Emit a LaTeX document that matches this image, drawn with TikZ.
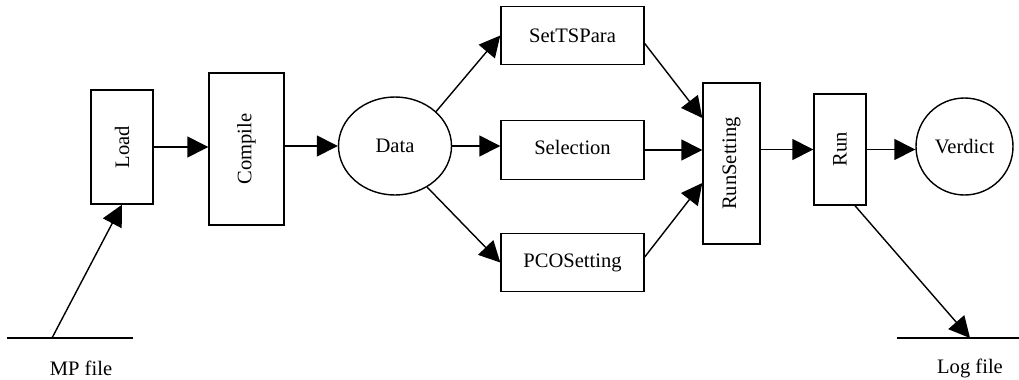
\documentclass[tikz,border=0pt]{standalone}
\usepackage{fontspec}
\usepackage{graphicx}
\setmainfont{Liberation Serif}
\usetikzlibrary{arrows.meta}
\usetikzlibrary{positioning}
\usetikzlibrary{shapes.geometric}
\tikzset{flow/.style = {-{Triangle[length=0.42cm, width=0.42cm]}}}
\tikzset{blk/.style = {draw, rectangle, inner sep = 0}}

\begin{document}
\begin{tikzpicture}[line width=0.8pt, font=\fontsize{11.7}{14}\selectfont]
      \useasboundingbox (0, 0) rectangle (20.38, 7.58);

      \node [blk, minimum width=1.24cm, minimum height=2.28cm] (load) at (2.44, 4.64) {\rotatebox{90}{Load}};
      \node [blk, minimum width=1.5cm, minimum height=3.04cm] (compile) at (4.93, 4.6) {\rotatebox{90}{Compile}};
      \node [draw, ellipse, inner sep=0, minimum width=2.26cm, minimum height=1.96cm] (data) at (7.9, 4.66) {Data};

      \node [blk, minimum width=2.86cm, minimum height=1.17cm] (settspara) at (11.45, 6.87) {SetTSPara};
      \node [blk, minimum width=2.86cm, minimum height=1.17cm] (selection) at (11.45, 4.58) {\raisebox{0.12cm}{Selection}};
      \node [blk, minimum width=2.86cm, minimum height=1.17cm] (pcosetting) at (11.45, 2.33) {PCOSetting};

      \node [blk, minimum width=1.14cm, minimum height=3.22cm] (runsetting) at (14.63, 4.31) {\rotatebox{90}{RunSetting}};
      \node [blk, minimum width=1.04cm, minimum height=2.22cm] (run) at (16.8, 4.59) {\rotatebox{90}{Run}};
      \node [draw, circle, minimum size=1.94cm, inner sep=0] (verdict) at (19.29, 4.65) {Verdict};

      % stores
      \draw (0.14, 0.82) -- (2.66, 0.82);
      \draw (17.94, 0.82) -- (20.38, 0.82);
      \coordinate (mp) at (1.04, 0.82);
      \coordinate (log) at (19.4, 0.82);
      \node (mplabel) at (1.62, 0.22) {MP file};
      \node (loglabel) at (19.4, 0.22) {Log file};

      \draw [flow] (mp) -- (load.south);
      \draw [flow] (load.east) -- (load.east -| compile.west);
      \draw [flow] (compile.east |- data.west) -- (data.west);

      \draw [flow] (data.40) -- (settspara.west);
      \draw [flow] (data.east) -- (data.east -| selection.west);
      \draw [flow] (data.-52) -- (pcosetting.west);

      \draw [flow] ([yshift=-0.16cm]settspara.east) -- ([yshift=0.91cm]runsetting.west);
      \draw [flow] (selection.east) -- (selection.east -| runsetting.west);
      \draw [flow] ([yshift=0.11cm]pcosetting.east) -- ([yshift=-0.39cm]runsetting.west);

      \draw [flow] (runsetting.east |- run.west) -- (run.west);
      \draw [flow] (run.east) -- (run.east -| verdict.west);
      \draw [flow] ([xshift=0.3cm]run.south) -- (log);
\end{tikzpicture}
\end{document}
